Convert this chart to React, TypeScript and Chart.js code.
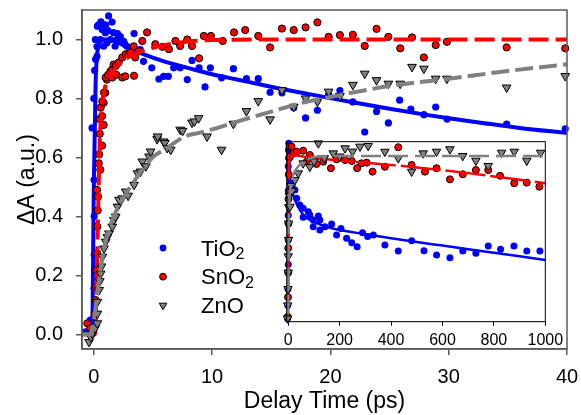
import React, { useEffect, useRef } from 'react';
import { Chart, registerables } from 'chart.js';

Chart.register(...registerables);

const FONT = '"Liberation Sans", Arial, Helvetica, sans-serif';

// ---------- labels / ticks ----------
const seriesNames = ['TiO2', 'SnO2', 'ZnO'];
const mainXTicks = [0, 10, 20, 30, 40];
const mainYTicks = [0, 0.2, 0.4, 0.6, 0.8, 1.0];
const insetXTicks = [0, 200, 400, 600, 800, 1000];
const xTitle = 'Delay Time (ps)';
const yTitle = 'ΔA (a.u.)';

// ---------- main panel data [delay (ps), ΔA] ----------
const tio2Main: number[][] = [
  [-0.7, 0.008], [-0.3, 0.048], [-0.1, 0.02], [0.0, 0.054], [0.02, 0.156], [0.03, 0.269], [0.03, 0.4],
  [0.02, 0.524], [-0.15, 0.7], [0.0, 0.8], [0.07, 0.895], [0.27, 0.943], [0.27, 0.976], [0.13, 1.0],
  [0.15, 0.933], [0.3, 1.045], [0.4, 1.05], [0.55, 1.0], [0.6, 1.06], [0.7, 1.034], [0.83, 0.977],
  [0.97, 1.023], [1.0, 1.05], [1.1, 0.988], [1.2, 1.03], [1.25, 1.08], [1.4, 1.0], [1.54, 1.059],
  [1.67, 1.023], [1.8, 0.977], [1.96, 1.0], [2.0, 1.02], [2.24, 1.01], [2.52, 0.994], [2.6, 0.985],
  [2.8, 0.977], [3.4, 1.02], [3.93, 0.966], [4.2, 0.926], [4.9, 0.904], [5.5, 0.866], [5.9, 0.875],
  [6.3, 0.875], [6.75, 0.904], [7.3, 0.904], [7.9, 0.864], [8.3, 0.929], [8.9, 0.904], [9.4, 0.839],
  [9.85, 0.904], [10.8, 0.87], [11.8, 0.901], [12.9, 0.867], [13.9, 0.867], [14.9, 0.821], [15.9, 0.819],
  [16.9, 0.768], [17.9, 0.734], [18.9, 0.76], [19.85, 0.813], [20.8, 0.827], [21.9, 0.788], [22.9, 0.686],
  [23.9, 0.756], [24.9, 0.717], [25.85, 0.794], [26.8, 0.764], [27.9, 0.745], [28.9, 0.771], [29.86, 0.73],
  [34.9, 0.713], [39.85, 0.697],
];
const sno2Main: number[][] = [
  [-0.55, 0.037], [-0.3, 0.02], [0.1, 0.07], [0.15, 0.116], [0.2, 0.16], [0.25, 0.218], [0.28, 0.275],
  [0.3, 0.365], [0.33, 0.42], [0.35, 0.467], [0.27, 0.49], [0.55, 0.558], [0.42, 0.58], [0.45, 0.61],
  [0.7, 0.64], [0.5, 0.68], [0.83, 0.71], [0.5, 0.73], [0.7, 0.74], [0.58, 0.769], [0.83, 0.785],
  [0.72, 0.79], [0.97, 0.819], [0.86, 0.82], [1.1, 0.864], [1.0, 0.871], [1.2, 0.88], [1.4, 0.892],
  [1.56, 0.899], [1.56, 0.871], [1.67, 0.915], [1.85, 0.91], [1.9, 0.88], [2.1, 0.922], [2.4, 0.939],
  [2.4, 0.871], [2.66, 0.875], [2.7, 0.95], [2.94, 0.949], [3.1, 0.956], [3.37, 0.977], [3.4, 0.877],
  [3.5, 0.939], [3.8, 0.96], [4.1, 0.995], [4.5, 1.024], [5.2, 0.984], [5.8, 0.975], [6.35, 0.967],
  [6.9, 0.995], [7.3, 0.978], [7.9, 1.0], [8.3, 0.978], [8.9, 0.936], [9.3, 1.012], [9.9, 1.012],
  [10.9, 0.995], [11.85, 1.024], [12.8, 1.032], [13.9, 1.012], [14.9, 0.973], [15.9, 1.037], [16.9, 1.032],
  [17.9, 1.041], [18.9, 1.058], [19.85, 1.009], [20.8, 1.015], [21.9, 1.016], [22.9, 0.978], [23.9, 1.036],
  [24.9, 1.009], [25.9, 0.97], [26.9, 1.007], [27.9, 0.939], [28.9, 0.981], [29.85, 0.992], [34.9, 0.973],
  [39.85, 0.97],
];
const znoMain: number[][] = [
  [-0.4, -0.026], [-0.25, -0.01], [-0.13, 0.003], [0.1, 0.02], [0.3, 0.037], [0.3, 0.07], [0.3, 0.11],
  [0.44, 0.15], [0.5, 0.18], [0.58, 0.206], [0.65, 0.23], [0.72, 0.263], [0.86, 0.291], [1.0, 0.314],
  [1.15, 0.33], [1.28, 0.342], [1.56, 0.365], [1.7, 0.388], [1.85, 0.399], [2.0, 0.433], [2.13, 0.456],
  [2.4, 0.461], [2.7, 0.484], [2.9, 0.47], [3.4, 0.507], [3.7, 0.546], [3.95, 0.552], [4.1, 0.586],
  [4.4, 0.57], [4.67, 0.603], [4.8, 0.62], [5.35, 0.662], [5.4, 0.671], [5.9, 0.654], [6.0, 0.649],
  [6.2, 0.632], [6.5, 0.626], [7.3, 0.694], [7.5, 0.69], [8.3, 0.718], [8.5, 0.722], [8.86, 0.733],
  [9.57, 0.671], [10.8, 0.626], [11.8, 0.714], [12.9, 0.757], [13.9, 0.791], [14.9, 0.729], [15.9, 0.828],
  [16.9, 0.772], [17.9, 0.8], [18.9, 0.789], [19.85, 0.823], [20.8, 0.808], [21.9, 0.846], [22.9, 0.884],
  [23.9, 0.862], [24.9, 0.85], [25.9, 0.85], [26.9, 0.907], [27.9, 0.901], [28.9, 0.867], [29.85, 0.867],
  [34.9, 0.837], [39.85, 0.876],
];

// ---------- main panel fits ----------
const tio2MainFit: number[][] = [
  [-1, 0], [-0.15, 0], [0.0, 0.5], [0.15, 0.85], [0.35, 0.97], [0.7, 1.0], [1.2, 1.0], [2, 0.99], [3, 0.97],
  [4, 0.953], [6, 0.925], [8, 0.903], [10, 0.882], [12, 0.865], [14, 0.848], [16, 0.831], [18, 0.816],
  [20, 0.801], [22, 0.786], [25, 0.765], [28, 0.745], [30, 0.733], [33, 0.716], [36, 0.7], [40, 0.683],
];
const sno2MainFit: number[][] = [
  [-1, 0], [0.1, 0], [0.3, 0.3], [0.5, 0.65], [0.7, 0.78], [0.9, 0.83], [1.2, 0.865], [1.6, 0.89], [2, 0.91],
  [2.5, 0.928], [3, 0.942], [3.5, 0.952], [4, 0.96], [5, 0.972], [6, 0.981], [7, 0.988], [8, 0.993],
  [10, 0.998], [15, 1.0], [40, 1.0],
];
const znoMainFit: number[][] = [
  [-1, 0], [-0.3, 0], [0, 0.05], [0.55, 0.218], [1.1, 0.331], [1.8, 0.41], [2.66, 0.473], [3.8, 0.541],
  [5.05, 0.603], [6.05, 0.628], [7.7, 0.671], [9, 0.684], [10, 0.695], [12.4, 0.725], [15, 0.755],
  [17.5, 0.784], [20, 0.805], [25, 0.842], [30, 0.867], [35, 0.893], [40, 0.916],
];

// ---------- inset data (0–1000 ps) ----------
const tio2Inset: number[][] = [
  [-3, -0.03], [-2, 0.05], [-1, 0.15], [0, 0.3], [0, 0.45], [0, 0.6], [0, 0.75], [0, 0.9], [1, 1.0],
  [2, 1.04], [4, 0.95], [7, 0.816], [15, 0.78], [26, 0.755], [33, 0.704], [45, 0.663], [58, 0.643],
  [58, 0.588], [78, 0.622], [84, 0.602], [97, 0.572], [97, 0.531], [117, 0.596], [123, 0.572], [123, 0.51],
  [143, 0.531], [169, 0.547], [188, 0.48], [205, 0.52], [227, 0.46], [247, 0.433], [268, 0.408],
  [289, 0.494], [309, 0.47], [331, 0.48], [376, 0.419], [428, 0.382], [480, 0.445], [528, 0.384],
  [577, 0.358], [629, 0.341], [679, 0.382], [730, 0.368], [778, 0.413], [826, 0.393], [878, 0.413],
  [928, 0.382], [979, 0.382],
];
const sno2Inset: number[][] = [
  [-2, -0.02], [-1, 0.1], [0, 0.25], [0, 0.4], [1, 0.55], [1, 0.7], [2, 0.85], [3, 0.95], [5, 1.02],
  [7, 0.959], [13, 1.02], [20, 0.98], [33, 0.989], [58, 0.995], [72, 0.928], [84, 0.969], [110, 0.914],
  [136, 0.928], [166, 0.888], [188, 0.943], [221, 0.938], [247, 0.932], [268, 0.888], [285, 0.918],
  [305, 0.922], [328, 0.867], [376, 0.897], [428, 1.016], [480, 0.908], [532, 0.867], [577, 0.888],
  [629, 0.82], [679, 0.851], [730, 0.877], [778, 0.877], [824, 0.842], [879, 0.796], [928, 0.8], [977, 0.775],
];
const znoInset: number[][] = [
  [-3, -0.03], [-2, 0.05], [-1, 0.15], [0, 0.25], [0, 0.35], [1, 0.45], [1, 0.55], [2, 0.65], [4, 0.72],
  [7, 0.653], [10, 0.78], [15, 0.75], [26, 0.816], [39, 0.857], [58, 0.918], [84, 0.897], [100, 0.93],
  [117, 1.04], [140, 0.95], [175, 0.979], [200, 0.96], [221, 1.01], [250, 0.99], [279, 1.02], [311, 1.024],
  [376, 0.989], [428, 0.949], [480, 0.867], [525, 0.979], [577, 0.989], [629, 1.004], [679, 0.963],
  [730, 0.934], [778, 0.902], [830, 0.983], [879, 0.989], [928, 0.934], [982, 0.983],
];
const tio2InsetFit: number[][] = [
  [-6, 0], [-1, 0], [0, 0.5], [1, 1.0], [3, 0.95], [10, 0.8], [20, 0.72], [30, 0.68], [60, 0.6], [100, 0.56],
  [150, 0.53], [200, 0.51], [300, 0.485], [400, 0.46], [500, 0.437], [600, 0.415], [700, 0.393],
  [800, 0.372], [900, 0.35], [1000, 0.327],
];
const sno2InsetFit: number[][] = [
  [-6, 0], [-1, 0], [1, 0.5], [3, 0.9], [8, 0.962], [20, 0.965], [100, 0.95], [200, 0.935], [300, 0.922],
  [400, 0.908], [500, 0.893], [600, 0.876], [700, 0.858], [800, 0.838], [900, 0.818], [1000, 0.796],
];
const znoInsetFit: number[][] = [
  [-6, 0], [-1, 0], [2, 0.5], [5, 0.7], [15, 0.82], [30, 0.88], [60, 0.93], [100, 0.955], [150, 0.962],
  [1000, 0.963],
];

// ---------- helpers ----------
const pts = (a: number[][]) => a.map(([x, y]) => ({ x, y }));

const BLUE = '#0000ff';
const RED = '#ff0000';
const GRAY = '#808080';

function pointSets(tio2: number[][], sno2: number[][], zno: number[][], r: number) {
  return [
    {
      label: seriesNames[0], data: pts(tio2), showLine: false, pointStyle: 'circle',
      pointRadius: r, pointBackgroundColor: BLUE, pointBorderColor: BLUE, pointBorderWidth: 0,
      backgroundColor: BLUE, borderColor: BLUE, order: 6, clip: false,
    },
    {
      label: seriesNames[1], data: pts(sno2), showLine: false, pointStyle: 'circle',
      pointRadius: r, pointBackgroundColor: RED, pointBorderColor: '#000', pointBorderWidth: 1,
      backgroundColor: RED, borderColor: '#000', order: 4, clip: false,
    },
    {
      label: seriesNames[2], data: pts(zno), showLine: false, pointStyle: 'triangle', pointRotation: 180,
      pointRadius: r * 1.4, pointBackgroundColor: GRAY, pointBorderColor: '#000', pointBorderWidth: 1,
      backgroundColor: GRAY, borderColor: '#000', order: 2, clip: false,
    },
  ];
}

function fitSets(tio2: number[][], sno2: number[][], zno: number[][], w: number, redDash: number[], grayDash: number[]) {
  const common = { showLine: true, pointRadius: 0, borderWidth: w, cubicInterpolationMode: 'monotone', fill: false };
  return [
    { ...common, label: 'fit-' + seriesNames[0], data: pts(tio2), borderColor: BLUE, order: 5 },
    { ...common, label: 'fit-' + seriesNames[1], data: pts(sno2), borderColor: RED, borderDash: redDash, order: 3 },
    { ...common, label: 'fit-' + seriesNames[2], data: pts(zno), borderColor: GRAY, borderDash: grayDash, order: 1 },
  ];
}

const framePlugin = {
  id: 'frame',
  beforeDatasetsDraw(chart: any, _a: any, opts: any) {
    if (!opts || !opts.fill) return;
    const { ctx, chartArea: c } = chart;
    ctx.save();
    ctx.fillStyle = opts.fill;
    ctx.fillRect(c.left, c.top, c.right - c.left, c.bottom - c.top);
    ctx.restore();
  },
  afterDraw(chart: any, _a: any, opts: any) {
    const { ctx, chartArea: c } = chart;
    ctx.save();
    ctx.strokeStyle = opts.color || '#000';
    ctx.lineWidth = opts.width || 1;
    ctx.strokeRect(c.left, c.top, c.right - c.left, c.bottom - c.top);
    ctx.restore();
  },
};

function drawMarker(ctx: CanvasRenderingContext2D, style: string, x: number, y: number, r: number, fill: string, stroke: string, bw: number) {
  ctx.beginPath();
  if (style === 'triangle') {
    const s = Math.sin(Math.PI / 3) * r;
    ctx.moveTo(x, y + r);
    ctx.lineTo(x - s, y - r / 2);
    ctx.lineTo(x + s, y - r / 2);
    ctx.closePath();
  } else {
    ctx.arc(x, y, r, 0, Math.PI * 2);
  }
  ctx.fillStyle = fill;
  ctx.fill();
  if (bw > 0) {
    ctx.lineWidth = bw;
    ctx.strokeStyle = stroke;
    ctx.stroke();
  }
}

const legendPlugin = {
  id: 'subLegend',
  afterDraw(chart: any) {
    const { ctx, chartArea: c } = chart;
    const x0 = c.left + 81;
    const y0 = c.top + 238;
    const dy = 28.7;
    ctx.save();
    seriesNames.forEach((name, i) => {
      const ds = chart.data.datasets.find((d: any) => d.label === name);
      if (!ds) return;
      const y = y0 + i * dy;
      const r = ds.pointStyle === 'triangle' ? 4.4 : 3.4;
      drawMarker(ctx, ds.pointStyle, x0, y, r, ds.pointBackgroundColor, ds.pointBorderColor, ds.pointBorderWidth);
      let x = x0 + 38;
      ctx.fillStyle = '#000';
      ctx.textAlign = 'left';
      ctx.textBaseline = 'alphabetic';
      name.split(/(\d+)/).filter(Boolean).forEach((run) => {
        const sub = /^\d+$/.test(run);
        ctx.font = `${sub ? 16 : 22}px ${FONT}`;
        ctx.fillText(run, x, y + 7.5 + (sub ? 3.5 : 0));
        x += ctx.measureText(run).width;
      });
    });
    ctx.restore();
  },
};

function setTicks(values: number[]) {
  return (s: any) => {
    s.ticks = values.map((v) => ({ value: v }));
  };
}

function fixSize(prop: 'width' | 'height', size: number) {
  return (s: any) => {
    s[prop] = size;
    s.paddingTop = 0;
    s.paddingBottom = 0;
    s.paddingLeft = 0;
    s.paddingRight = 0;
  };
}

export default function App() {
  const mainRef = useRef<HTMLCanvasElement>(null);
  const insetRef = useRef<HTMLCanvasElement>(null);

  useEffect(() => {
    const main = new Chart(mainRef.current as HTMLCanvasElement, {
      type: 'scatter',
      data: {
        datasets: [
          ...pointSets(tio2Main, sno2Main, znoMain, 3.6),
          ...fitSets(tio2MainFit, sno2MainFit, znoMainFit, 4, [20, 7], [18, 6]),
        ] as any,
      },
      plugins: [framePlugin, legendPlugin],
      options: {
        responsive: false,
        devicePixelRatio: 1,
        animation: false,
        layout: { padding: { left: 0, top: 10, right: 14, bottom: 0 } },
        plugins: {
          legend: { display: false },
          tooltip: { enabled: false },
          frame: { color: '#5a5a5a', width: 1.5 },
        } as any,
        scales: {
          x: {
            type: 'linear',
            min: -1,
            max: 40,
            afterBuildTicks: setTicks(mainXTicks),
            afterFit: fixSize('height', 66),
            ticks: { font: { size: 20, family: FONT }, color: '#000', padding: 10, maxRotation: 0, autoSkip: false, callback: (v: any) => String(v) },
            grid: { drawOnChartArea: false, drawTicks: true, tickLength: 6, color: '#5a5a5a', lineWidth: 1.5 },
            border: { display: true, color: '#5a5a5a', width: 1.5 },
            title: { display: true, text: xTitle, font: { size: 23, family: FONT }, color: '#000', padding: { top: 0, bottom: 0 } },
          },
          y: {
            type: 'linear',
            min: -0.05,
            max: 1.1,
            afterBuildTicks: setTicks(mainYTicks),
            afterFit: fixSize('width', 82),
            ticks: { font: { size: 20, family: FONT }, color: '#000', padding: 13, autoSkip: false, callback: (v: any) => Number(v).toFixed(1) },
            grid: { drawOnChartArea: false, drawTicks: true, tickLength: 6, color: '#5a5a5a', lineWidth: 1.5 },
            border: { display: true, color: '#5a5a5a', width: 1.5 },
            title: { display: true, text: yTitle, font: { size: 23, family: FONT }, color: '#000', padding: { top: 14, bottom: 0 } },
          },
        },
      } as any,
    });

    const inset = new Chart(insetRef.current as HTMLCanvasElement, {
      type: 'scatter',
      data: {
        datasets: [
          ...pointSets(tio2Inset, sno2Inset, znoInset, 3.5),
          ...fitSets(tio2InsetFit, sno2InsetFit, znoInsetFit, 2.5, [40, 5], [20, 7]),
        ] as any,
      },
      plugins: [framePlugin],
      options: {
        responsive: false,
        devicePixelRatio: 1,
        animation: false,
        layout: { padding: { left: 20.7, top: 9.7, right: 20.7, bottom: 0 } },
        plugins: {
          legend: { display: false },
          tooltip: { enabled: false },
          frame: { color: '#000', width: 1, fill: '#fff' },
        } as any,
        scales: {
          x: {
            type: 'linear',
            min: -6,
            max: 1000,
            afterBuildTicks: setTicks(insetXTicks),
            afterFit: fixSize('height', 35.3),
            ticks: { font: { size: 16, family: FONT }, color: '#000', padding: 5, maxRotation: 0, autoSkip: false, callback: (v: any) => String(v) },
            grid: { drawOnChartArea: false, drawTicks: true, tickLength: 4, color: '#000', lineWidth: 1 },
            border: { display: true, color: '#000', width: 1 },
          },
          y: {
            type: 'linear',
            min: -0.05,
            max: 1.05,
            display: false,
          },
        },
      } as any,
    });

    return () => {
      main.destroy();
      inset.destroy();
    };
  }, []);

  return (
    <div style={{ position: 'absolute', left: 0, top: 0, width: 581, height: 415, background: '#fff' }}>
      <canvas ref={mainRef} width={581} height={415} style={{ position: 'absolute', left: 0, top: 0, width: 581, height: 415 }} />
      <canvas ref={insetRef} width={300} height={225} style={{ position: 'absolute', left: 266, top: 132, width: 300, height: 225 }} />
    </div>
  );
}
